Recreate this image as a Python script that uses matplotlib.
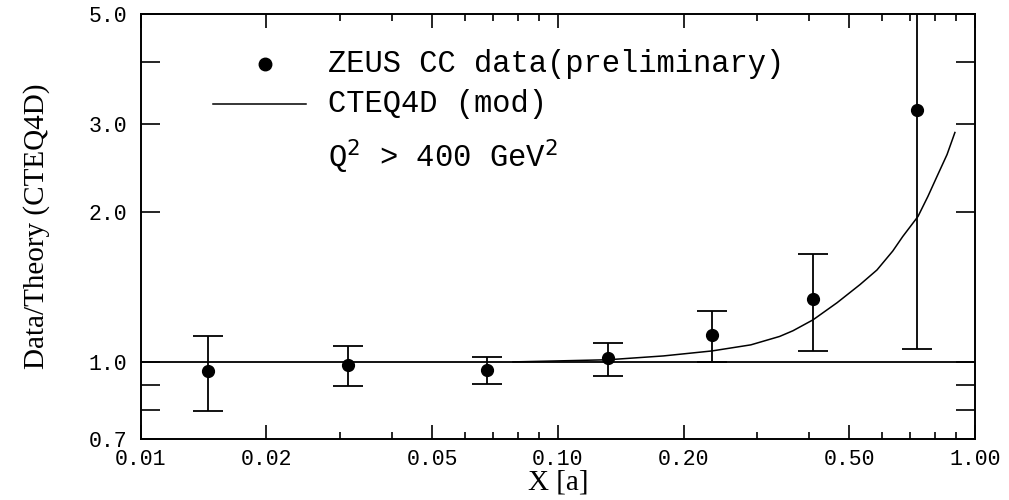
import matplotlib
matplotlib.use('Agg')
import matplotlib.pyplot as plt
from matplotlib.ticker import FixedLocator, NullFormatter

# ZEUS CC data / CTEQ4D ratio
x_data = [0.0145, 0.0314, 0.0676, 0.132, 0.234, 0.409, 0.726]
y_data = [0.959, 0.986, 0.963, 1.019, 1.133, 1.339, 3.21]
y_err_lo = [0.797, 0.895, 0.903, 0.937, 1.000, 1.052, 1.062]
y_err_hi = [1.128, 1.077, 1.023, 1.092, 1.267, 1.651, 6.0]

# modified CTEQ4D curve
x_theory = [0.078, 0.092, 0.132, 0.179, 0.234, 0.290, 0.340, 0.366, 0.409, 0.467,
            0.530, 0.582, 0.635, 0.671, 0.730, 0.771, 0.811, 0.857, 0.895]
y_theory = [1.000, 1.003, 1.010, 1.028, 1.052, 1.082, 1.125, 1.155, 1.215, 1.315,
            1.430, 1.530, 1.670, 1.786, 1.960, 2.150, 2.360, 2.610, 2.890]

x_ticks = [0.01, 0.02, 0.05, 0.10, 0.20, 0.50, 1.00]
x_ticklabels = ['0.01', '0.02', '0.05', '0.10', '0.20', '0.50', '1.00']
x_minor = [0.03, 0.04, 0.06, 0.07, 0.08, 0.09, 0.3, 0.4, 0.6, 0.7, 0.8, 0.9]
y_ticks = [0.7, 0.8, 0.9, 1.0, 2.0, 3.0, 4.0, 5.0]
y_ticklabels = ['0.7', '', '', '1.0', '2.0', '3.0', '', '5.0']

mono = 'Liberation Mono'
serif = 'Liberation Serif'

fig = plt.figure(figsize=(10.09, 5.0), dpi=100)
ax = fig.add_axes([0.1397, 0.122, 0.8266, 0.850])

ax.set_xscale('log')
ax.set_yscale('log')
ax.set_xlim(0.01, 1.0)
ax.set_ylim(0.7, 5.0)

ax.axhline(1.0, color='black', lw=1.3, zorder=1)

y_lo = [y - lo for y, lo in zip(y_data, y_err_lo)]
y_hi = [hi - y for y, hi in zip(y_data, y_err_hi)]
ax.errorbar(x_data, y_data, yerr=[y_lo, y_hi], fmt='o', color='black',
            ms=8.5, elinewidth=1.3, capsize=10.5, capthick=1.3, zorder=3)

ax.plot(x_theory, y_theory, color='black', lw=1.1, zorder=2)

# axis ticks
ax.xaxis.set_major_locator(FixedLocator(x_ticks))
ax.set_xticklabels(x_ticklabels, family=mono, fontsize=15.5)
ax.xaxis.set_minor_locator(FixedLocator(x_minor))
ax.xaxis.set_minor_formatter(NullFormatter())
ax.yaxis.set_major_locator(FixedLocator(y_ticks))
ax.set_yticklabels(y_ticklabels, family=mono, fontsize=15.5)
ax.yaxis.set_minor_locator(FixedLocator([]))

ax.tick_params(axis='x', which='major', direction='in', length=10, width=1.2,
               top=True, bottom=True, pad=7)
ax.tick_params(axis='x', which='minor', direction='in', length=5, width=1.2,
               top=True, bottom=True)
ax.tick_params(axis='y', which='major', direction='in', length=14, width=1.2,
               left=True, right=True, pad=10)
for s in ax.spines.values():
    s.set_linewidth(1.4)

ax.set_xlabel('X [a]', family=serif, fontsize=21, labelpad=0)
ax.set_ylabel('Data/Theory (CTEQ4D)', family=serif, fontsize=21, labelpad=28)

# legend drawn by hand, like the original
ax.plot([0.0198], [3.97], 'o', color='black', ms=9)
ax.plot([0.0149, 0.0249], [3.30, 3.30], color='black', lw=1.1)
ax.text(0.0281, 3.97, 'ZEUS CC data(preliminary)', family=mono, fontsize=22, va='center')
ax.text(0.0281, 3.30, 'CTEQ4D (mod)', family=mono, fontsize=22, va='center')
ax.text(0.0281, 2.58, r'Q$^2$ > 400 GeV$^2$', family=mono, fontsize=22, va='center')

fig.savefig('out.png', dpi=100)
